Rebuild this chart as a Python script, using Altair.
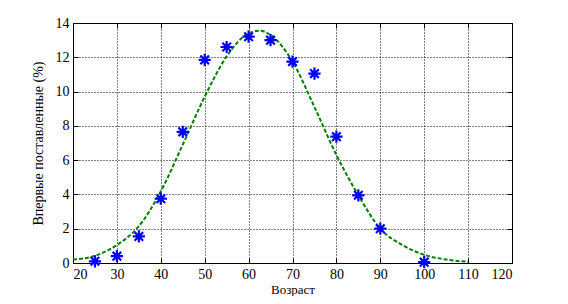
import altair as alt
import pandas as pd

# Observed data (stars)
age_obs = [25, 30, 35, 40, 45, 50, 55, 60, 65, 70, 75, 80, 85, 90, 100]
pct_obs = [0.1, 0.4, 1.55, 3.75, 7.65, 11.85, 12.6, 13.2, 13.0, 11.75, 11.05, 7.37, 3.95, 2.0, 0.05]

# Fitted curve
age_fit = [20, 25, 30, 35, 40, 45, 50, 55, 60, 62.5, 65, 70, 75, 80, 85, 90, 95, 100, 105, 110]
pct_fit = [0.2, 0.42, 1.05, 2.15, 4.18, 6.9, 9.7, 12.05, 13.4, 13.55, 13.3, 11.75, 9.1, 6.3, 3.95, 2.0, 1.05, 0.48, 0.2, 0.07]

xticks = [20, 30, 40, 50, 60, 70, 80, 90, 100, 110, 120]
yticks = [0, 2, 4, 6, 8, 10, 12, 14]

df_obs = pd.DataFrame({"age": age_obs, "pct": pct_obs})
df_fit = pd.DataFrame({"age": age_fit, "pct": pct_fit})

FONT = "Liberation Serif, Times New Roman, DejaVu Serif, serif"
W, H = 439, 240
xscale = alt.Scale(domain=[20, 120], nice=False)
yscale = alt.Scale(domain=[0, 14], nice=False)

xenc = alt.X("age:Q", scale=xscale,
             axis=alt.Axis(values=xticks, title="Возраст", grid=True, format="d",
                           gridDash=[1, 2], gridColor="black", gridOpacity=1, gridWidth=1,
                           domainColor="black", tickSize=0, labelOverlap=False,
                           labelFont=FONT, labelFontSize=14, labelColor="black", labelPadding=4,
                           titleFont=FONT, titleFontSize=13, titleFontWeight="normal",
                           titleColor="black", titleBaseline="alphabetic", titleY=30))
yenc = alt.Y("pct:Q", scale=yscale,
             axis=alt.Axis(values=yticks, title="Впервые поставленные (%)", grid=True, format="d",
                           gridDash=[1, 2], gridColor="black", gridOpacity=1, gridWidth=1,
                           domainColor="black", tickSize=0, labelOverlap=False,
                           labelFont=FONT, labelFontSize=14, labelColor="black", labelPadding=4,
                           titleFont=FONT, titleFontSize=14, titleFontWeight="normal",
                           titleColor="black", titlePadding=10))

curve = alt.Chart(df_fit).mark_line(
    color="#008000", strokeDash=[4, 2], strokeWidth=2, interpolate="monotone"
).encode(x=xenc, y=yenc)

star = "M-1,0L1,0M0,-1L0,1M-0.7,-0.7L0.7,0.7M-0.7,0.7L0.7,-0.7"
points = alt.Chart(df_obs).mark_point(
    shape=star, size=150, color="#0000ff", strokeWidth=2.2, filled=False, opacity=1
).encode(x=alt.X("age:Q", scale=xscale, axis=None),
         y=alt.Y("pct:Q", scale=yscale, axis=None))


def tick_axis(orient, offset):
    return alt.Axis(values=xticks if orient in ("top", "bottom") else yticks,
                    orient=orient, offset=offset, labels=False, domain=False, grid=False,
                    title=None, tickSize=5, tickColor="black", tickWidth=1)


tx_bottom = alt.Chart(df_obs).mark_point(opacity=0).encode(
    x=alt.X("age:Q", scale=xscale, axis=tick_axis("top", -H)),
    y=alt.Y("pct:Q", scale=yscale, axis=None))
tx_top = alt.Chart(df_obs).mark_point(opacity=0).encode(
    x=alt.X("age:Q", scale=xscale, axis=tick_axis("bottom", -H)),
    y=alt.Y("pct:Q", scale=yscale, axis=None))
ty_left = alt.Chart(df_obs).mark_point(opacity=0).encode(
    x=alt.X("age:Q", scale=xscale, axis=None),
    y=alt.Y("pct:Q", scale=yscale, axis=tick_axis("right", -W)))
ty_right = alt.Chart(df_obs).mark_point(opacity=0).encode(
    x=alt.X("age:Q", scale=xscale, axis=None),
    y=alt.Y("pct:Q", scale=yscale, axis=tick_axis("left", -W)))

chart = alt.layer(curve, tx_bottom, tx_top, ty_left, ty_right, points).resolve_axis(
    x="independent", y="independent"
).properties(
    width=W, height=H,
    autosize="none",
    padding={"left": 65, "top": 15, "right": 48, "bottom": 33},
    background="white",
).configure_view(stroke="black", strokeWidth=1)

chart.save("out.html", embed_options={"renderer": "svg", "actions": False})
